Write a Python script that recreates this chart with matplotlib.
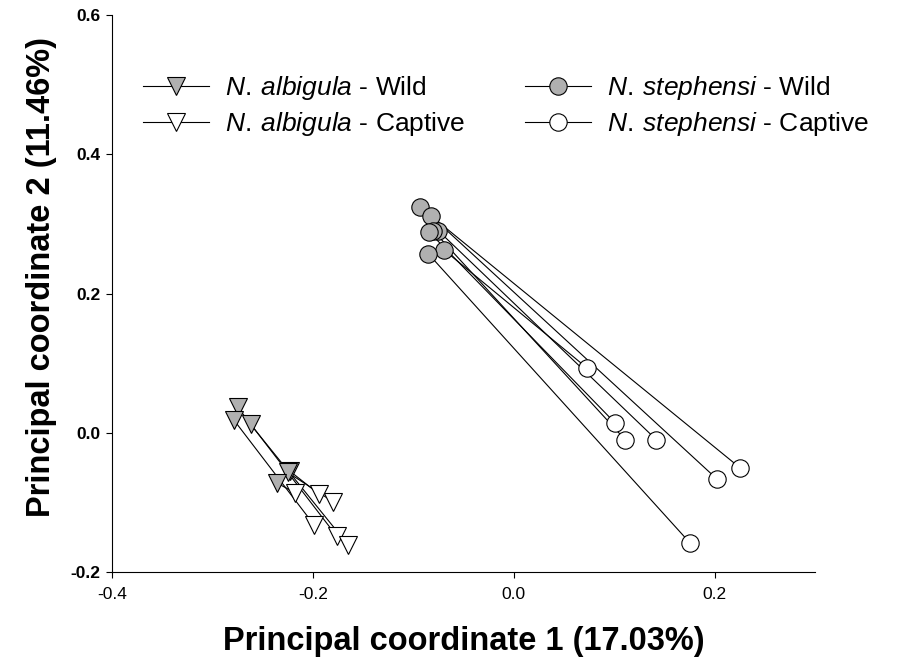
import numpy as np
import matplotlib
matplotlib.use("Agg")
from matplotlib import pyplot as plt
from matplotlib.lines import Line2D

plt.rcParams['font.family'] = ['Liberation Sans', 'DejaVu Sans']
plt.rcParams['mathtext.fontset'] = 'custom'
plt.rcParams['mathtext.rm'] = 'Liberation Sans'
plt.rcParams['mathtext.it'] = 'Liberation Sans:italic'

# N. albigula: each wild point is joined to its captive point
alb_wild_x = [-0.275, -0.279, -0.262, -0.223, -0.225, -0.236]
alb_wild_y = [0.037, 0.019, 0.012, -0.055, -0.057, -0.072]
alb_capt_x = [-0.176, -0.199, -0.165, -0.194, -0.180, -0.218]
alb_capt_y = [-0.149, -0.132, -0.161, -0.088, -0.099, -0.086]

# N. stephensi
ste_wild_x = [-0.093, -0.082, -0.075, -0.080, -0.084, -0.069, -0.085]
ste_wild_y = [0.324, 0.311, 0.290, 0.290, 0.288, 0.262, 0.257]
ste_capt_x = [0.225, 0.202, 0.142, 0.111, 0.101, 0.073, 0.176]
ste_capt_y = [-0.050, -0.066, -0.010, -0.010, 0.014, 0.093, -0.159]

xticks = [-0.4, -0.2, 0.0, 0.2]
yticks = [-0.2, 0.0, 0.2, 0.4, 0.6]

gray = '#b0b0b0'
lw = 0.8

fig = plt.figure(figsize=(8.98, 6.63), dpi=100)
ax = fig.add_axes([112/898, 91/663, 703/898, 557/663])

# connecting lines
for x0, y0, x1, y1 in zip(alb_wild_x, alb_wild_y, alb_capt_x, alb_capt_y):
	ax.plot([x0, x1], [y0, y1], color='black', lw=lw, zorder=1)
for x0, y0, x1, y1 in zip(ste_wild_x, ste_wild_y, ste_capt_x, ste_capt_y):
	ax.plot([x0, x1], [y0, y1], color='black', lw=lw, zorder=1)

tri_ms = 13
circ_ms = 12.5
ax.plot(alb_capt_x, alb_capt_y, 'v', ms=tri_ms, mfc='white', mec='black', mew=lw, zorder=2)
ax.plot(alb_wild_x, alb_wild_y, 'v', ms=tri_ms, mfc=gray, mec='black', mew=lw, zorder=3)
ax.plot(ste_capt_x, ste_capt_y, 'o', ms=circ_ms, mfc='white', mec='black', mew=lw, zorder=2)
ax.plot(ste_wild_x, ste_wild_y, 'o', ms=circ_ms, mfc=gray, mec='black', mew=lw, zorder=3)

ax.set_xlim(-0.4, 0.3)
ax.set_ylim(-0.2, 0.6)
ax.set_xticks(xticks)
ax.set_xticklabels(['%.1f' % v for v in xticks])
ax.set_yticks(yticks)
ax.set_yticklabels(['%.1f' % v for v in yticks], fontweight='bold')
ax.tick_params(direction='out', length=4.5, width=0.8, labelsize=12.5, pad=4)
ax.tick_params(axis='x', pad=6)
ax.spines['top'].set_visible(False)
ax.spines['right'].set_visible(False)
for s in ['left', 'bottom']:
	ax.spines[s].set_linewidth(0.8)

ax.set_xlabel('Principal coordinate 1 (17.03%)', fontsize=23.5, fontweight='bold')
ax.set_ylabel('Principal coordinate 2 (11.46%)', fontsize=23.5, fontweight='bold')
ax.xaxis.set_label_coords(0.5, -0.097)
ax.yaxis.set_label_coords(-0.078, 0.53)

h_alb_w = Line2D([], [], color='black', lw=lw, marker='v', ms=tri_ms, mfc=gray, mec='black', mew=lw)
h_alb_c = Line2D([], [], color='black', lw=lw, marker='v', ms=tri_ms, mfc='white', mec='black', mew=lw)
h_ste_w = Line2D([], [], color='black', lw=lw, marker='o', ms=circ_ms, mfc=gray, mec='black', mew=lw)
h_ste_c = Line2D([], [], color='black', lw=lw, marker='o', ms=circ_ms, mfc='white', mec='black', mew=lw)

leg_kw = dict(frameon=False, fontsize=19, loc='upper left', bbox_transform=fig.transFigure,
	borderpad=0, borderaxespad=0, handlelength=2.5, handletextpad=0.6, labelspacing=0.3)
leg1 = ax.legend([h_alb_w, h_alb_c],
	[r'$\it{N.\:albigula}$ - Wild', r'$\it{N.\:albigula}$ - Captive'],
	bbox_to_anchor=(143/898, 1 - 74/663), **leg_kw)
ax.add_artist(leg1)
ax.legend([h_ste_w, h_ste_c],
	[r'$\it{N.\:stephensi}$ - Wild', r'$\it{N.\:stephensi}$ - Captive'],
	bbox_to_anchor=(525/898, 1 - 74/663), **leg_kw)

fig.savefig('out.png', dpi=100)
